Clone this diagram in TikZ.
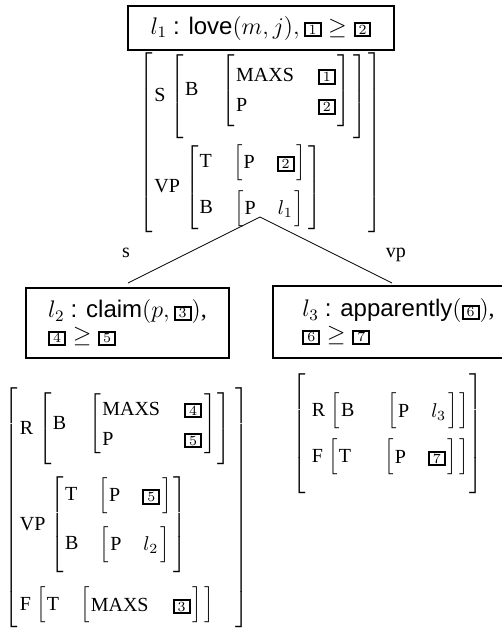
\documentclass[tikz,border=0pt]{standalone}
\usepackage{amsmath}
\usepackage{fontspec}
\setmainfont{Liberation Serif}
\setsansfont{Liberation Sans}
\usetikzlibrary{positioning}

% boxed index and feature names
\newcommand{\boxnum}[1]{\text{\setlength{\fboxsep}{0.5pt}\setlength{\fboxrule}{1pt}%
  \fbox{\kern1pt\scriptsize$#1$\kern1pt}}}
\newcommand{\ft}[1]{\text{#1}}
% bracket round a matrix, #1/#2 = room above/below
\newcommand{\fsbox}[3]{\delimiterfactor=901 \delimitershortfall=5pt
  \left[\vcenter{\kern#1\hbox{$#3$}\kern#2}\right]}
% one column of rows, and a two column table
\newcommand{\rows}[1]{\begin{array}{@{\hspace{0.5pt}}l@{\hspace{1pt}}}#1\end{array}}
\newcommand{\pairs}[2]{\begin{array}{@{\hspace{0.5pt}}l@{\hspace{#1}}l@{\hspace{1pt}}}#2\end{array}}
\newcommand{\gap}[1]{\\\noalign{\vskip#1}}
% outermost matrix: #1 = bracket height, #2/#3 = left/right padding
\newcommand{\avmouter}[4]{\delimiterfactor=1000 \delimitershortfall=0pt
  \left[\rule[\dimexpr2.5pt-#1/2\relax]{0pt}{#1}%
  \begin{array}{@{\hspace{#2}}l@{\hspace{#3}}}#4\end{array}\right]}

\begin{document}
\begin{tikzpicture}[x=0.5pt,y=-0.5pt,
    lexbox/.style={draw,line width=1pt,inner sep=0pt,font=\large},
    fs/.style={inner sep=0pt},
    edgelabel/.style={inner sep=0pt,anchor=base}]
  \useasboundingbox (0,0) rectangle (502,634);
  \renewcommand{\arraystretch}{1.25}

  % top node
  \node[lexbox,minimum width=133pt,minimum height=22pt] (love) at (261,28)
    {$l_1$ \textsf{: love}$(m,j),\boxnum{1}\geq\boxnum{2}$};
  \node[fs] (love avm) at (260.5,142.5) {$\avmouter{86pt}{1pt}{1pt}{
      \ft{S}\hspace{1pt}\fsbox{0pt}{6pt}{\rows{\ft{B}\hspace{10pt}%
        \fsbox{3pt}{3pt}{\pairs{12pt}{\ft{MAXS} & \boxnum{1}\\ \ft{P} & \boxnum{2}}}}}\gap{3pt}
      \ft{VP}\hspace{1pt}\fsbox{0pt}{2pt}{\rows{\ft{T}\hspace{9pt}\fsbox{0pt}{0pt}{\pairs{11pt}{\ft{P} & \boxnum{2}}}\gap{5pt}
        \ft{B}\hspace{9pt}\fsbox{0pt}{0pt}{\pairs{11pt}{\ft{P} & l_1}}}}}$};

  % daughters
  \node[lexbox,minimum width=101.5pt,minimum height=35pt,align=left] (claim) at (127.5,323)
    {$l_2$ \textsf{: claim}$(p,\boxnum{3})$,\\[-1.5pt] $\boxnum{4}\geq\boxnum{5}$};
  \node[fs] (claim avm) at (126.5,508) {$\avmouter{120pt}{1pt}{2pt}{
      \ft{R}\hspace{1pt}\fsbox{0pt}{5pt}{\rows{\ft{B}\hspace{10pt}%
        \fsbox{0pt}{0pt}{\pairs{12pt}{\ft{MAXS} & \boxnum{4}\\ \ft{P} & \boxnum{5}}}}}\gap{6pt}
      \ft{VP}\hspace{1pt}\fsbox{0pt}{5pt}{\rows{\ft{T}\hspace{9pt}\fsbox{0pt}{0pt}{\pairs{11pt}{\ft{P} & \boxnum{5}}}\gap{6.5pt}
        \ft{B}\hspace{9pt}\fsbox{0pt}{0pt}{\pairs{11pt}{\ft{P} & l_2}}}}\gap{7pt}
      \ft{F}\hspace{1pt}\fsbox{0pt}{0pt}{\rows{\ft{T}\hspace{9pt}\fsbox{0pt}{0pt}{\pairs{12pt}{\ft{MAXS} & \boxnum{3}}}}}}$};

  \node[lexbox,minimum width=125pt,minimum height=36pt,align=left] (appar) at (398.5,322)
    {$l_3$ \textsf{: apparently}$(\boxnum{6})$,\\[-1.5pt] $\boxnum{6}\geq\boxnum{7}$};
  \node[fs] (appar avm) at (387.5,434) {$\avmouter{56pt}{3pt}{0pt}{
      \ft{R}\hspace{1pt}\fsbox{0pt}{0pt}{\rows{\ft{B}\hspace{15pt}\fsbox{0pt}{0pt}{\pairs{11pt}{\ft{P} & l_3}}}}\gap{5pt}
      \ft{F}\hspace{1pt}\fsbox{0pt}{0pt}{\rows{\ft{T}\hspace{15pt}\fsbox{0pt}{0pt}{\pairs{11pt}{\ft{P} & \boxnum{7}}}}}}$};

  % tree edges
  \coordinate (apex) at (260,217);
  \coordinate (s end) at (128,283);
  \coordinate (vp end) at (392,283);
  \draw (apex) -- (s end);
  \draw (apex) -- (vp end);
  \node[edgelabel] (s lab) at (126,257) {s};
  \node[edgelabel] (vp lab) at (396,257) {vp};
\end{tikzpicture}
\end{document}
